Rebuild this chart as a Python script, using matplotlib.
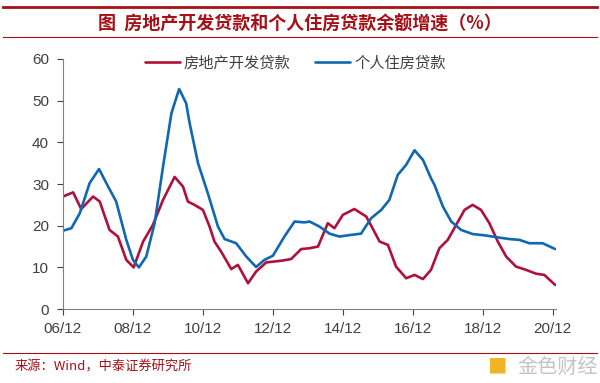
import numpy as np
import matplotlib.pyplot as plt

plt.rcParams['font.family'] = ['Noto Sans CJK SC', 'DejaVu Sans']

# years since Dec 2006, growth rate (%)
t_dev = [0, 0.29, 0.52, 0.86, 1.05, 1.33, 1.57, 1.81, 2.02, 2.29, 2.57, 2.86, 3.19, 3.43,
         3.57, 3.76, 4.0, 4.19, 4.33, 4.52, 4.81, 5.0, 5.29, 5.52, 5.81, 6.24, 6.52, 6.81,
         7.05, 7.29, 7.57, 7.76, 8.0, 8.33, 8.67, 8.9, 9.05, 9.29, 9.52, 9.81, 10.05, 10.29,
         10.52, 10.76, 11.0, 11.24, 11.48, 11.71, 11.95, 12.19, 12.43, 12.67, 12.95, 13.24,
         13.52, 13.76, 14.07]
dev_loan = [27.0, 28.0, 24.0, 27.0, 25.8, 19.0, 17.4, 11.8, 10.0, 16.2, 20.2, 26.2, 31.7, 29.4,
            25.8, 25.0, 23.8, 19.8, 16.2, 13.8, 9.6, 10.6, 6.2, 9.0, 11.2, 11.6, 12.0, 14.4,
            14.6, 15.0, 20.6, 19.4, 22.6, 24.0, 22.2, 18.6, 16.2, 15.4, 10.2, 7.4, 8.2, 7.2,
            9.4, 14.6, 16.6, 20.2, 23.8, 25.0, 23.8, 20.6, 16.2, 12.6, 10.2, 9.4,
            8.5, 8.2, 5.8]

t_mort = [0, 0.24, 0.48, 0.76, 1.03, 1.29, 1.52, 1.81, 2.0, 2.17, 2.38, 2.62, 2.86, 3.1,
          3.32, 3.52, 3.62, 3.86, 4.14, 4.43, 4.62, 4.95, 5.24, 5.52, 5.76, 6.0, 6.33, 6.62,
          6.9, 7.05, 7.33, 7.62, 7.9, 8.24, 8.52, 8.81, 9.1, 9.33, 9.57, 9.81, 10.05, 10.29,
          10.52, 10.62, 10.86, 11.1, 11.38, 11.71, 12.05, 12.43, 12.76, 13.05, 13.33, 13.71,
          14.07]
mortgage = [18.8, 19.4, 23.0, 30.2, 33.6, 29.4, 25.8, 16.6, 11.8, 10.0, 12.6, 20.6, 34.2, 47.0,
            52.8, 49.4, 44.6, 35.0, 27.8, 19.8, 16.8, 15.8, 12.6, 10.1, 11.8, 12.8, 17.4, 21.0,
            20.8, 21.0, 19.8, 18.1, 17.4, 17.8, 18.1, 21.8, 23.8, 26.2, 32.2, 34.6, 38.1, 35.8,
            31.4, 29.8, 24.6, 21.0, 19.0, 18.0, 17.7, 17.2, 16.8, 16.6, 15.8, 15.8,
            14.4]

tick_pos = [0, 2, 4, 6, 8, 10, 12, 14]
tick_labels = ['06/12', '08/12', '10/12', '12/12', '14/12', '16/12', '18/12', '20/12']

red = '#B0103A'
blue = '#1068B2'
title_red = '#A50F15'

fig = plt.figure(figsize=(6, 3.83), dpi=100)
ax = fig.add_axes([0.105, 0.193, 0.822, 0.653])

line_kw = dict(lw=1.9, solid_joinstyle='round', solid_capstyle='round')
ax.plot(t_dev, dev_loan, color=red, label='房地产开发贷款', **line_kw)
ax.plot(t_mort, mortgage, color=blue, label='个人住房贷款', **line_kw)

ax.set_xlim(0, 14.1)
ax.set_ylim(0, 60)
ax.set_xticks(tick_pos)
ax.set_xticklabels(tick_labels)
ax.set_yticks(range(0, 61, 10))
ax.tick_params(colors='#404040', labelsize=11, length=4, width=0.8, direction='out')
ax.tick_params(axis='x', pad=5)
ax.tick_params(axis='y', pad=6)
for s in ['top', 'right']:
    ax.spines[s].set_visible(False)
for s in ['left', 'bottom']:
    ax.spines[s].set_color('#808080')
    ax.spines[s].set_linewidth(0.8)
for lbl in ax.get_xticklabels() + ax.get_yticklabels():
    lbl.set_family(['Liberation Sans', 'DejaVu Sans'])

fig.legend(handles=ax.get_lines(), ncol=2, loc='center left',
           bbox_to_anchor=(145 / 600, 1 - 63 / 383), frameon=False, fontsize=11,
           handlelength=2.3, handletextpad=0.25, columnspacing=1.6,
           borderpad=0, borderaxespad=0, labelcolor='#404040')

# header / footer decorations
fig.add_artist(plt.Line2D([0.005, 0.995], [1 - 7 / 383, 1 - 7 / 383], color=title_red, lw=2))
fig.add_artist(plt.Line2D([0.005, 0.995], [1 - 37 / 383, 1 - 37 / 383], color=title_red, lw=0.8))
fig.add_artist(plt.Line2D([0.005, 0.995], [1 - 353 / 383, 1 - 353 / 383], color=title_red, lw=0.8))
fig.text(0.5, 1 - 24 / 383, '图  房地产开发贷款和个人住房贷款余额增速（%）', ha='center', va='center',
         color=title_red, fontsize=13, fontweight='bold')
fig.text(0.025, 1 - 367 / 383, '来源：Wind，中泰证券研究所', ha='left', va='center',
         color=title_red, fontsize=9.5)
fig.text(0.997, 1 - 367 / 383, '金色财经', ha='right', va='center', color='#c4c4c4', fontsize=14.5)
fig.text(0.828, 1 - 367 / 383, '■', ha='center', va='center', color='#f0b429', fontsize=14)

fig.savefig('out.png', dpi=100)
